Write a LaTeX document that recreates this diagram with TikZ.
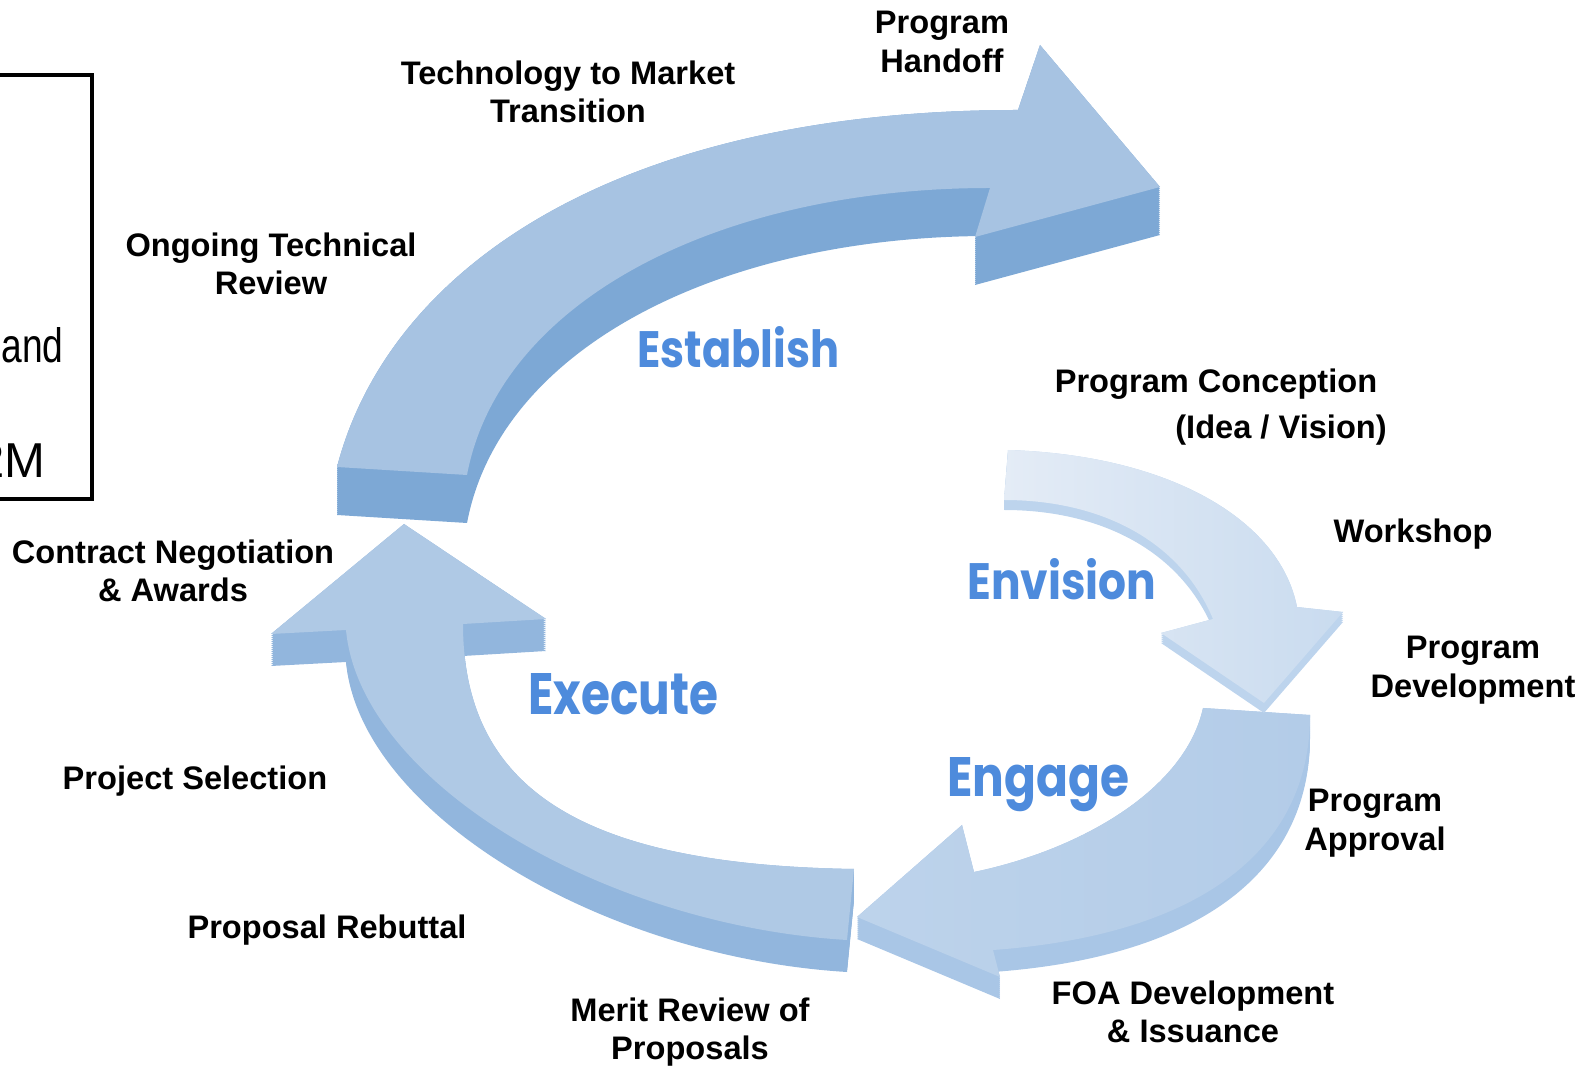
\documentclass[tikz,border=0pt]{standalone}
\usepackage{fontspec}
\setmainfont{Liberation Sans}
\newfontfamily\geo{Poppins}
\definecolor{bigblue}{HTML}{4E8BDC}
\definecolor{esttop}{HTML}{A7C3E2}
\definecolor{esttopl}{HTML}{B4CDE8}
\definecolor{estside}{HTML}{7DA8D5}
\definecolor{exetop}{HTML}{AFC9E5}
\definecolor{exetopl}{HTML}{B8D0EA}
\definecolor{exeside}{HTML}{92B6DD}
\definecolor{engtop}{HTML}{BDD3EB}
\definecolor{engtopd}{HTML}{B3CCE8}
\definecolor{engside}{HTML}{A9C6E6}
\definecolor{envtopl}{HTML}{E4ECF6}
\definecolor{envtopd}{HTML}{C9DBEF}
\definecolor{envside}{HTML}{BDD4ED}
\begin{document}
\begin{tikzpicture}[x=0.5pt,y=-0.5pt,
  lbl/.style={font=\fontsize{16.3}{19.3}\selectfont\bfseries, align=center, inner sep=0pt, text=black},
  big/.style={inner sep=0pt, anchor=base west, text=bigblue},
  boxtxt/.style={inner sep=0pt, anchor=base east, font=\fontsize{24.5}{28}\selectfont}
]
\useasboundingbox (0,0) rectangle (1585,1068);
\clip (0,0) rectangle (1585,1068);

% ---------- shapes (top faces) ----------
\def\EstFace{(337,467) .. controls (389,267) and (618,110) .. (1018,110) -- (1040,45) -- (1160,187) -- (975,237) -- (990,188) .. controls (720,188) and (500,300) .. (467,475) -- cycle}
\def\ExeFace{(404,524) -- (546,619) -- (463,624) .. controls (463,800) and (600,865) .. (854,869) -- (847,940) .. controls (600,925) and (360,780) .. (346,630) -- (271,634) -- cycle}
\def\EngFace{(1203,708) .. controls (1185,790) and (1080,850) .. (974,872) -- (962,825) -- (857,917) -- (1000,977) -- (993,950) .. controls (1200,935) and (1310,850) .. (1310,715) -- cycle}
\def\EnvFace{(1008,450) .. controls (1170,455) and (1280,520) .. (1297,607) -- (1343,612) -- (1264,703) -- (1161,633) -- (1213,619) .. controls (1180,540) and (1100,500) .. (1004,500) -- cycle}

% Establish
\foreach \d in {0,2,...,48} {\fill[estside, shift={(0,\d)}] \EstFace;}
\shade[left color=esttop, middle color=esttopl, right color=esttop] \EstFace;
% Execute
\foreach \d in {0,2,...,32} {\fill[exeside, shift={(0,\d)}] \ExeFace;}
\shade[left color=exetop, middle color=exetopl, right color=exetop] \ExeFace;
% Engage
\foreach \d in {0,2,...,22} {\fill[engside, shift={(0,\d)}] \EngFace;}
\shade[left color=engtop, right color=engtopd] \EngFace;
% Envision
\foreach \d in {0,2,...,10} {\fill[envside, shift={(0,\d)}] \EnvFace;}
\shade[left color=envtopl, right color=envtopd] \EnvFace;

% ---------- big words ----------
\node[big] (establish) at (637,368) {\resizebox{101pt}{20.5pt}{\geo\bfseries Establish}};
\node[big] (envision) at (967,600) {\resizebox{94.5pt}{20.5pt}{\geo\bfseries Envision}};
\node[big] (execute) at (528,715) {\resizebox{95pt}{20.5pt}{\geo\bfseries Execute}};
\node[big] (engage) at (947,797) {\resizebox{91pt}{19.5pt}{\geo\bfseries Engage}};

% ---------- labels ----------
\node[lbl] (handoff) at (942,42) {Program\\Handoff};
\node[lbl] (t2m) at (568,92) {Technology to Market\\Transition};
\node[lbl] (otr) at (271,264) {Ongoing Technical\\Review};
\node[lbl] (conc1) at (1216,384) {Program Conception};
\node[lbl] (conc2) at (1281,430) {(Idea / Vision)};
\node[lbl] (workshop) at (1413,534) {Workshop};
\node[lbl] (progdev) at (1473,670) {Program\\Development};
\node[lbl] (contract) at (173,571) {Contract Negotiation\\\& Awards};
\node[lbl] (approval) at (1375,823) {Program\\Approval};
\node[lbl] (projsel) at (195,781) {Project Selection};
\node[lbl] (rebuttal) at (327,930) {Proposal Rebuttal};
\node[lbl] (merit) at (690,1032) {Merit Review of\\Proposals};
\node[lbl] (foa) at (1193,1012) {FOA Development\\\& Issuance};

% ---------- left box ----------
\draw[line width=2.2pt] (-10,75) rectangle (92,499);
\node[inner sep=0pt, anchor=base east] (boxand) at (64,363) {\resizebox{31pt}{17.5pt}{and}};
\node[boxtxt] (box2m) at (46,478) {2M};
\end{tikzpicture}
\end{document}
